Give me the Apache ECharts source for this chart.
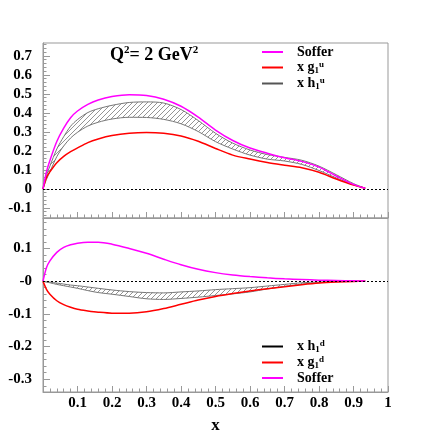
<!DOCTYPE html>
<html><head><meta charset="utf-8">
<script src="https://cdn.jsdelivr.net/npm/echarts@6/dist/echarts.min.js"></script>
<style>html,body{margin:0;padding:0;background:#fff}#c{width:436px;height:436px}</style>
</head><body><div id="c"></div>
<script>
// ---- data ----
const xs        = [0, 0.01, 0.02, 0.04, 0.06, 0.08, 0.1, 0.13, 0.16, 0.2, 0.25, 0.3, 0.35, 0.4, 0.45, 0.5, 0.55, 0.6, 0.65, 0.7, 0.75, 0.8, 0.85, 0.9, 0.934];
// upper panel (u quark)
const topSoffer = [0, 0.09, 0.15, 0.25, 0.32, 0.375, 0.41, 0.445, 0.468, 0.486, 0.496, 0.492, 0.472, 0.435, 0.378, 0.31, 0.255, 0.215, 0.188, 0.164, 0.145, 0.115, 0.068, 0.024, 0.004];
const topG1     = [0, 0.06, 0.09, 0.138, 0.171, 0.196, 0.216, 0.244, 0.263, 0.281, 0.293, 0.297, 0.293, 0.279, 0.251, 0.213, 0.178, 0.157, 0.139, 0.125, 0.112, 0.088, 0.052, 0.02, 0.004];
const topH1Hi   = [0, 0.07, 0.12, 0.21, 0.275, 0.33, 0.365, 0.402, 0.422, 0.44, 0.455, 0.458, 0.452, 0.418, 0.36, 0.293, 0.241, 0.205, 0.181, 0.166, 0.151, 0.12, 0.075, 0.028, 0.004];
const topH1Lo   = [0, 0.05, 0.09, 0.17, 0.226, 0.268, 0.298, 0.331, 0.351, 0.368, 0.377, 0.376, 0.366, 0.343, 0.302, 0.249, 0.21, 0.178, 0.157, 0.147, 0.129, 0.097, 0.058, 0.022, 0.004];
// lower panel (d quark)
const botSoffer = [0, 0.041, 0.062, 0.088, 0.103, 0.111, 0.116, 0.119, 0.119, 0.113, 0.1, 0.085, 0.067, 0.05, 0.036, 0.026, 0.019, 0.014, 0.01, 0.007, 0.005, 0.003, 0.002, 0.001, 0];
const botG1     = [0, -0.025, -0.04, -0.06, -0.072, -0.08, -0.086, -0.091, -0.095, -0.098, -0.098, -0.094, -0.084, -0.071, -0.058, -0.047, -0.038, -0.030, -0.023, -0.017, -0.011, -0.006, -0.003, -0.001, 0];
const botH1Hi   = [0, -0.002, -0.003, -0.006, -0.009, -0.012, -0.014, -0.018, -0.022, -0.027, -0.032, -0.035, -0.036, -0.033, -0.030, -0.026, -0.023, -0.020, -0.015, -0.010, -0.005, -0.003, -0.001, 0, 0];
const botH1Lo   = [0, -0.003, -0.005, -0.01, -0.014, -0.018, -0.022, -0.029, -0.035, -0.040, -0.047, -0.054, -0.056, -0.053, -0.049, -0.044, -0.039, -0.033, -0.024, -0.016, -0.009, -0.005, -0.002, -0.001, 0];
// ticks
const xMajor    = [0.1, 0.2, 0.3, 0.4, 0.5, 0.6, 0.7, 0.8, 0.9, 1];
const xLabels   = ['0.1','0.2','0.3','0.4','0.5','0.6','0.7','0.8','0.9','1'];
const topMajor  = [-0.1, 0, 0.1, 0.2, 0.3, 0.4, 0.5, 0.6, 0.7];
const topLabels = ['-0.1','0','0.1','0.2','0.3','0.4','0.5','0.6','0.7'];
const botMajor  = [-0.3, -0.2, -0.1, 0, 0.1];
const botLabels = ['-0.3','-0.2','-0.1','-0','0.1'];

function minorTicks(lo, hi, step, majors) {
  const out = [];
  for (let k = Math.ceil(lo / step - 1e-9); k * step <= hi + 1e-9; k++) {
    const v = Math.round(k * step * 1000) / 1000;
    if (!majors.some(m => Math.abs(m - v) < 1e-6)) out.push(v);
  }
  return out;
}
const xMinor = minorTicks(0.02, 0.98, 0.02, xMajor);
const topMinor = minorTicks(-0.15, 0.768, 0.02, topMajor);
const botMinor = minorTicks(-0.34, 0.193, 0.02, botMajor);

function lab(vals, labels) {
  return v => { const i = vals.findIndex(t => Math.abs(t - v) < 1e-6); return i >= 0 ? labels[i] : ''; };
}
const pairs = ys => xs.map((x, i) => [x, ys[i]]);

// hatch pattern
const pc = document.createElement('canvas'); pc.width = 5; pc.height = 5;
const g = pc.getContext('2d'); g.fillStyle = '#fff'; g.fillRect(0, 0, 5, 5);
g.strokeStyle = '#666'; g.lineWidth = 0.7;
g.beginPath(); g.moveTo(0, 5); g.lineTo(5, 0); g.moveTo(-1, 1); g.lineTo(1, -1); g.moveTo(4, 6); g.lineTo(6, 4); g.stroke();
const hatch = { image: pc, repeat: 'repeat' };

const FONT = 'Liberation Serif';
const AX = '#999';
const tickLbl = { fontFamily: FONT, fontWeight: 'bold', fontSize: 15, color: '#000' };

function xAxes(grid, withLabels) {
  return [
    { gridIndex: grid, type: 'value', min: 0, max: 1, position: 'bottom',
      axisLine: { show: true, onZero: false, lineStyle: { color: AX, width: 1 } },
      axisTick: { show: true, inside: true, length: 6, customValues: xMajor, lineStyle: { color: AX } },
      axisLabel: withLabels ? Object.assign({ show: true, margin: 4, customValues: xMajor, formatter: lab(xMajor, xLabels) }, tickLbl) : { show: false },
      splitLine: { show: false },
      name: withLabels ? 'x' : '', nameLocation: 'middle', nameGap: 25,
      nameTextStyle: { fontFamily: FONT, fontWeight: 'bold', fontSize: 17, color: '#000' } },
    { gridIndex: grid, type: 'value', min: 0, max: 1, position: 'bottom',
      axisLine: { show: false, onZero: false },
      axisTick: { show: true, inside: true, length: 3.5, customValues: xMinor, lineStyle: { color: AX } },
      axisLabel: { show: false }, splitLine: { show: false } }
  ];
}
function yAxes(grid, min, max, major, labels, minor) {
  return [
    { gridIndex: grid, type: 'value', min: min, max: max, position: 'left',
      axisLine: { show: true, onZero: false, lineStyle: { color: AX, width: 1 } },
      axisTick: { show: true, inside: true, length: 7, customValues: major, lineStyle: { color: AX } },
      axisLabel: Object.assign({ show: true, margin: 11, customValues: major, formatter: lab(major, labels) }, tickLbl),
      splitLine: { show: false } },
    { gridIndex: grid, type: 'value', min: min, max: max, position: 'left',
      axisLine: { show: false, onZero: false },
      axisTick: { show: true, inside: true, length: 3.5, customValues: minor, lineStyle: { color: AX } },
      axisLabel: { show: false }, splitLine: { show: false } }
  ];
}

const zeroLine = { silent: true, symbol: 'none', label: { show: false }, z: 10,
  lineStyle: { color: '#000', type: [2, 2], width: 1 }, data: [{ yAxis: 0 }] };

function line(name, data, color, xi, yi, extra) {
  return Object.assign({ name: name, type: 'line', data: data, xAxisIndex: xi, yAxisIndex: yi,
    symbol: 'none', smooth: 0.3, color: color, lineStyle: { color: color, width: 1.5 } }, extra || {});
}
// band = hatched area to the outer edge, then white area to the inner edge
const bandOuter = (name, d, xi, yi) => line(name, d, '#777', xi, yi,
  { lineStyle: { color: '#777', width: 1 }, areaStyle: { color: hatch, opacity: 1, origin: 0 } });
const bandInner = (name, d, xi, yi) => line(name, d, '#777', xi, yi,
  { lineStyle: { color: '#777', width: 1 }, areaStyle: { color: '#fff', opacity: 1, origin: 0 } });

const rich = {
  g: { width: 9 },
  n: { fontFamily: FONT, fontWeight: 'bold', fontSize: 14, lineHeight: 15, color: '#000' },
  sb: { fontFamily: FONT, fontWeight: 'bold', fontSize: 9, lineHeight: 9, verticalAlign: 'bottom', color: '#000' },
  sp: { fontFamily: FONT, fontWeight: 'bold', fontSize: 9, lineHeight: 9, verticalAlign: 'top', color: '#000' }
};
const legendText = {
  'Soffer': '{g| }{n|Soffer}',
  'x g1u': '{g| }{n|x g}{sb|1}{sp|u}',
  'x h1u': '{g| }{n|x h}{sb|1}{sp|u}',
  'x h1d': '{g| }{n|x h}{sb|1}{sp|d}',
  'x g1d': '{g| }{n|x g}{sb|1}{sp|d}'
};
function legend(top, items) {
  return { orient: 'vertical', left: 262, top: top, itemWidth: 21, itemHeight: 2, itemGap: 1, icon: 'rect',
    padding: 0, selectedMode: false, formatter: n => legendText[n],
    textStyle: { rich: rich },
    data: items.map(([n, c]) => ({ name: n, itemStyle: { color: c } })) };
}

const chart = echarts.init(document.getElementById('c'), null, { renderer: 'canvas' });
chart.setOption({
  animation: false,
  backgroundColor: '#fff',
  grid: [
    { left: 43, top: 43, width: 345, height: 175, show: true, borderColor: AX, borderWidth: 1, backgroundColor: 'transparent' },
    { left: 43, top: 218, width: 345, height: 174, show: true, borderColor: AX, borderWidth: 1, backgroundColor: 'transparent' }
  ],
  xAxis: xAxes(0, false).concat(xAxes(1, true)),
  yAxis: yAxes(0, -0.153, 0.768, topMajor, topLabels, topMinor)
    .concat(yAxes(1, -0.339, 0.193, botMajor, botLabels, botMinor)),
  legend: [
    legend(45, [['Soffer', '#ff00ff'], ['x g1u', '#ff0000'], ['x h1u', '#555555']]),
    legend(339, [['x h1d', '#000000'], ['x g1d', '#ff0000'], ['Soffer', '#ff00ff']])
  ],
  graphic: [{
    type: 'text', left: 110, top: 45, silent: true,
    style: { text: '{a|Q}{s|2}{a|= 2 GeV}{s|2}', rich: {
      a: { fontFamily: FONT, fontWeight: 'bold', fontSize: 18, lineHeight: 20, color: '#000' },
      s: { fontFamily: FONT, fontWeight: 'bold', fontSize: 11, lineHeight: 11, verticalAlign: 'top', color: '#000' } } }
  }],
  series: [
    // upper panel
    bandOuter('x h1u', pairs(topH1Hi), 0, 0),
    bandInner('x h1u', pairs(topH1Lo), 0, 0),
    line('x g1u', pairs(topG1), '#ff0000', 0, 0),
    line('Soffer', pairs(topSoffer), '#ff00ff', 0, 0, { markLine: zeroLine }),
    // lower panel
    bandOuter('x h1d', pairs(botH1Lo), 2, 2),
    bandInner('x h1d', pairs(botH1Hi), 2, 2),
    line('x g1d', pairs(botG1), '#ff0000', 2, 2),
    line('Soffer', pairs(botSoffer), '#ff00ff', 2, 2, { markLine: zeroLine })
  ]
});
</script></body></html>
